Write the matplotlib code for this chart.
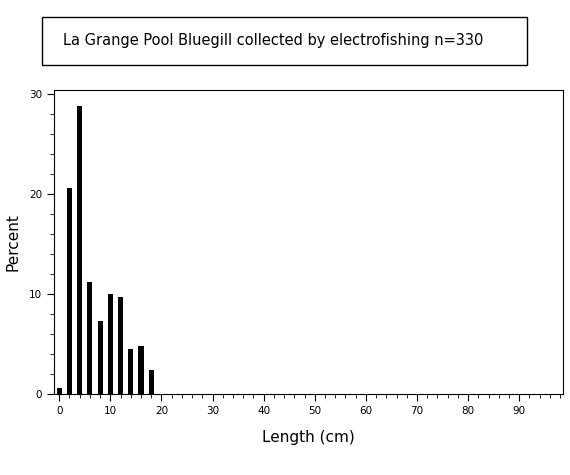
import matplotlib
matplotlib.use("Agg")
import matplotlib.pyplot as plt
from matplotlib.ticker import MultipleLocator
from matplotlib.patches import Rectangle

lengths = [0, 2, 4, 6, 8, 10, 12, 14, 16, 18]
percent = [0.6, 20.6, 28.8, 11.2, 7.3, 10.0, 9.7, 4.5, 4.8, 2.4]
xticks = [0, 10, 20, 30, 40, 50, 60, 70, 80, 90]
yticks = [0, 10, 20, 30]

fig = plt.figure(figsize=(5.7, 4.75), dpi=100)
ax = fig.add_axes([0.095, 0.1705, 0.893, 0.6395])
ax.bar(lengths, percent, width=1.0, color="black")
ax.set_xlim(-1, 98.6)
ax.set_ylim(0, 30.4)
ax.set_xticks(xticks)
ax.set_yticks(yticks)
ax.xaxis.set_minor_locator(MultipleLocator(2))
ax.yaxis.set_minor_locator(MultipleLocator(2))
ax.tick_params(labelsize=7.5, length=5, direction="out")
ax.tick_params(which="minor", length=3)
ax.set_xlabel("Length (cm)", fontsize=11, labelpad=10)
ax.set_ylabel("Percent", fontsize=11, labelpad=6)
fig.patches.append(Rectangle((42/570, 1-65/475), 485/570, 48/475, transform=fig.transFigure,
                             facecolor="white", edgecolor="black", linewidth=1))
fig.text(0.48, 1-41/475, "La Grange Pool Bluegill collected by electrofishing n=330",
         ha="center", va="center", fontsize=10.5)
fig.savefig("out.png", dpi=100)
